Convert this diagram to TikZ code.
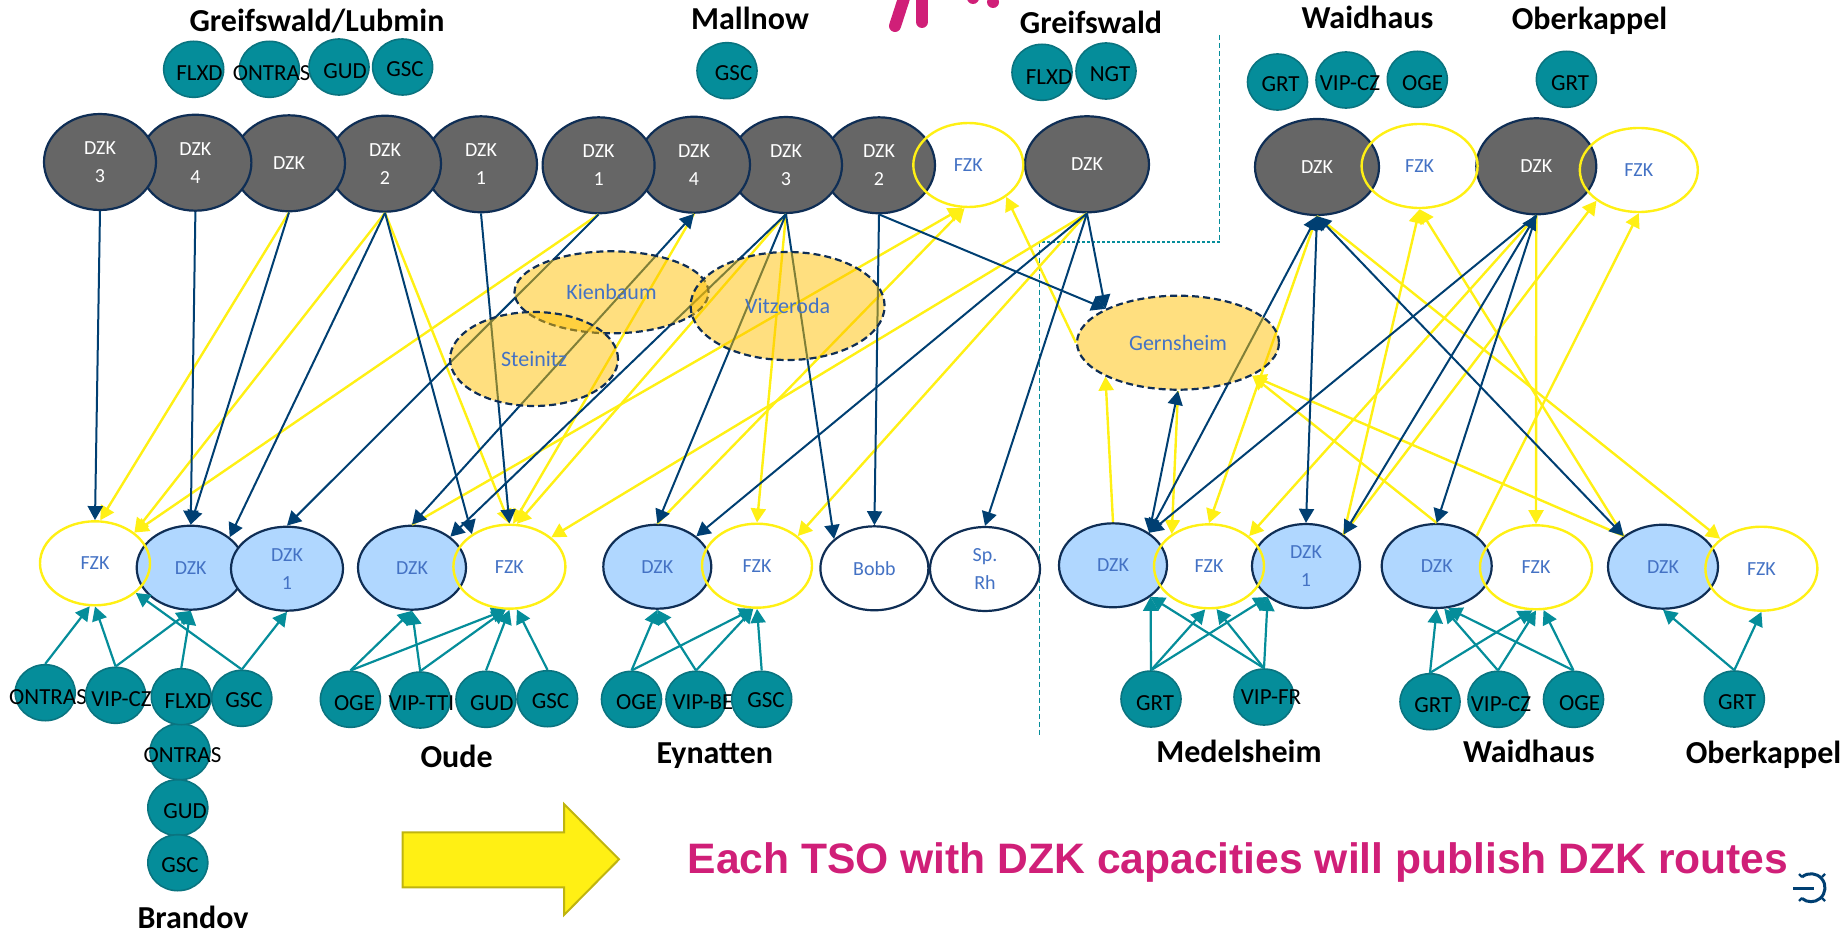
\documentclass[tikz,border=0pt]{standalone}
\usepackage{fontspec}
\usepackage{xcolor}
\usetikzlibrary{shapes.geometric,arrows.meta}
\setmainfont{Carlito}
\newfontfamily\headfont{Liberation Sans}
\definecolor{navyline}{HTML}{003F72}
\definecolor{navyedge}{HTML}{0F2E55}
\definecolor{tealfill}{HTML}{058D9A}
\definecolor{tealedge}{HTML}{0A7480}
\definecolor{sunyellow}{HTML}{FFF014}
\definecolor{pointgray}{HTML}{666666}
\definecolor{paleblue}{HTML}{B0D7FF}
\definecolor{textblue}{HTML}{4472C4}
\definecolor{storeorange}{HTML}{FFC000}
\definecolor{tsopink}{HTML}{D01F78}
\tikzset{
  oval/.style={ellipse,inner sep=0pt,align=center,font=\fontsize{20}{28}\selectfont},
  graydzk/.style={oval,draw=navyedge,line width=2.2pt,fill=pointgray,text=white,minimum width=112pt,minimum height=96pt},
  bluedzk/.style={oval,draw=navyedge,line width=2.2pt,fill=paleblue,text=textblue,minimum width=108pt,minimum height=84pt},
  whitedzk/.style={oval,draw=navyedge,line width=2.2pt,text=textblue,minimum width=108pt,minimum height=84pt},
  fzk/.style={oval,draw=sunyellow,line width=2.4pt,text=textblue,minimum width=110pt,minimum height=84pt},
  store/.style={oval,font=\fontsize{22}{22}\selectfont,draw=navyedge,dashed,dash pattern=on 7pt off 4pt,line width=2.2pt,fill=storeorange,fill opacity=.5,text opacity=1,text=textblue},
  storeplace/.style={ellipse,inner sep=0pt,line width=2.2pt},
  shipper/.style={ellipse,inner sep=0pt,draw=tealedge,line width=1.6pt,fill=tealfill,minimum width=60pt,minimum height=56pt},
  shippertext/.style={inner sep=0pt,font=\fontsize{23}{23}\selectfont,text=black},
  place/.style={inner sep=0pt,font=\fontsize{32}{32}\selectfont\bfseries,text=black},
  navyarr/.style={-{Triangle[length=14pt,width=15pt]},draw=navyline,line width=2pt},
  navyboth/.style={{Triangle[length=14pt,width=15pt]}-{Triangle[length=14pt,width=15pt]},draw=navyline,line width=2pt},
  yellowarr/.style={-{Triangle[length=14pt,width=15pt]},draw=sunyellow,line width=2.4pt},
  tealarr/.style={-{Triangle[length=14pt,width=15pt]},draw=tealfill,line width=2.2pt},
  border/.style={draw=tealfill,line width=1.2pt},
}
\newcommand{\shipperat}[4]{\node[shipper] (#1) at (#2) {}; \node[shippertext] (#1t) at (#3) {#4};}

\begin{document}
\begin{tikzpicture}[x=1pt,y=-1pt]
  \useasboundingbox (0,0) rectangle (1845,936);

  % cut off letters at the top
  \draw[tsopink,line width=12pt,line cap=round] (895,26) -- (906,-8);
  \draw[tsopink,line width=12pt,line cap=round] (922,22) -- (922,-8);
  \fill[tsopink] (973,-2) circle (6pt);
  \fill[tsopink] (993,2) circle (6pt);

  % market area borders
  \coordinate (bordertop) at (1219.6,35);
  \coordinate (bordercorner) at (1219.6,241.7);
  \coordinate (borderbend) at (1039.6,241.7);
  \coordinate (borderend) at (1039.6,736.7);
  \draw[border,dash pattern=on 5pt off 3pt] (bordertop) -- (bordercorner);
  \draw[border,line width=2pt,dash pattern=on 3pt off 2pt] (bordercorner) -- (borderbend);
  \draw[border,dash pattern=on 5pt off 3pt] (borderbend) -- (borderend);

  % upper row, right to left so that the left one lies on top
  \node[graydzk] (mdzkb) at (879,165.3) {DZK\\2};
  \node[graydzk] (mdzkc) at (786,165) {DZK\\3};
  \node[graydzk] (mdzkd) at (694,164.7) {DZK\\4};
  \node[graydzk] (mdzka) at (598.6,165.3) {DZK\\1};
  \node[graydzk] (gldzka) at (481,164.3) {DZK\\1};
  \node[graydzk] (gldzkb) at (385,163.7) {DZK\\2};
  \node[graydzk] (gldzk) at (289,163.3) {DZK};
  \node[graydzk] (gldzkd) at (195.4,162.7) {DZK\\4};
  \node[graydzk] (gldzkc) at (100,162) {DZK\\3};
  \node[graydzk,minimum width=124pt] (grdzk) at (1087,164.3) {DZK};
  \node[graydzk,minimum width=124pt] (wdzk) at (1317,167) {DZK};
  \node[graydzk,minimum width=120pt] (odzk) at (1536.3,166.3) {DZK};
  \node[fzk] (mfzk) at (968.3,165) {FZK};
  \node[fzk,minimum width=116pt] (wfzk) at (1419.6,166) {FZK};
  \node[fzk,minimum width=118pt] (ofzk) at (1638.8,170) {FZK};

  % lower row
  \node[bluedzk] (brdzk) at (190.7,567.7) {DZK};
  \node[bluedzk,minimum width=112pt] (brdzka) at (287,568.7) {DZK\\1};
  \node[fzk] (brfzk) at (95,563.3) {FZK};
  \node[bluedzk] (oudzk) at (412,567.7) {DZK};
  \node[fzk,minimum width=112pt] (oufzk) at (509.4,566.7) {FZK};
  \node[bluedzk] (eydzk) at (657.3,566.7) {DZK};
  \node[fzk] (eyfzk) at (757,565.7) {FZK};
  \node[whitedzk] (bobb) at (874.4,568.3) {Bobb};
  \node[whitedzk,minimum width=110pt] (sprh) at (985,569) {Sp.\\Rh};
  \node[bluedzk] (medzk) at (1113,565.3) {DZK};
  \node[bluedzk] (medzka) at (1306,566) {DZK\\1};
  \node[fzk] (mefzk) at (1209,566.3) {FZK};
  \node[bluedzk,minimum width=110pt] (wldzk) at (1436.7,566) {DZK};
  \node[fzk,minimum width=112pt] (wlfzk) at (1536,567.3) {FZK};
  \node[bluedzk,minimum width=110pt] (oldzk) at (1663,566.7) {DZK};
  \node[fzk,minimum width=112pt] (olfzk) at (1761.4,568.7) {FZK};

  % shippers
  \shipperat{sflxd}{193.7,69.3}{199.5,73.3}{FLXD}
  \shipperat{sontras}{269.4,69.3}{271.7,73.3}{ONTRAS}
  \shipperat{sgud}{339,67}{345,70.7}{GUD}
  \shipperat{sgsc}{402.6,67}{405,69}{GSC}
  \shipperat{mgsc}{727,70.7}{733.6,73.3}{GSC}
  \shipperat{gflxd}{1042,72.3}{1049,76.7}{FLXD}
  \shipperat{gngt}{1106,71}{1110,74.3}{NGT}
  \shipperat{wgrt}{1277.5,82}{1280.5,84.3}{GRT}
  \shipperat{wvip}{1346,80}{1350,83.3}{VIP-CZ}
  \shipperat{woge}{1417.3,79.3}{1422.7,83.3}{OGE}
  \shipperat{ogrt}{1566.4,79.3}{1570,82.7}{GRT}

  \shipperat{bontras}{45.2,692.7}{48,696.7}{ONTRAS}
  \shipperat{bvip}{115.6,695.3}{121.5,698.7}{VIP-CZ}
  \shipperat{bontrasb}{180,751.7}{182.5,755.3}{ONTRAS}
  \shipperat{bflxd}{181.3,696.7}{187.8,700.7}{FLXD}
  \shipperat{bgsc}{241.8,698.3}{244,700}{GSC}
  \shipperat{bgud}{177.8,807.7}{185,811.3}{GUD}
  \shipperat{bgscb}{177.8,862.7}{180,864.7}{GSC}
  \shipperat{uoge}{350.4,699.3}{354.5,702.7}{OGE}
  \shipperat{uvip}{420.2,700}{421.4,703.3}{VIP-TTI}
  \shipperat{ugud}{486,699.3}{491.8,703.3}{GUD}
  \shipperat{ugsc}{547.5,698.7}{550.5,701}{GSC}
  \shipperat{yoge}{631.5,699.3}{636.7,702.3}{OGE}
  \shipperat{yvip}{696,699.3}{703,702.3}{VIP-BE}
  \shipperat{ygsc}{761.7,699.3}{766,700}{GSC}
  \shipperat{egrt}{1151,699}{1155,702.7}{GRT}
  \shipperat{evip}{1264,697}{1271,696.7}{VIP-FR}
  \shipperat{lgrt}{1430,701.7}{1433.3,704.7}{GRT}
  \shipperat{lvip}{1498,699.3}{1501,703.7}{VIP-CZ}
  \shipperat{loge}{1573.5,699.3}{1579.5,702.7}{OGE}
  \shipperat{kgrt}{1734.3,699}{1737,702.3}{GRT}

  % place names
  \node[place] (tgl) at (317,21) {Greifswald/Lubmin};
  \node[place] (tma) at (750,18) {Mallnow};
  \node[place] (tgr) at (1091,22) {Greifswald};
  \node[place] (twa) at (1367.4,17.5) {Waidhaus};
  \node[place] (tob) at (1589.5,21) {Oberkappel};
  \node[place] (tou) at (456.6,756) {Oude};
  \node[place] (tey) at (714.8,756) {Eynatten};
  \node[place] (tbr) at (193,917) {Brandov};
  \node[place] (tme) at (1239,751.7) {Medelsheim};
  \node[place] (twl) at (1528.8,751.7) {Waidhaus};
  \node[place] (tol) at (1763.5,755) {Oberkappel};

  % storages have to lie over the routes, so only the place of this one here
  \coordinate (kien) at (611.5,292.3);
  \coordinate (vitz) at (787.6,306);
  \coordinate (stei) at (534,359);
  \coordinate (gern) at (1178,342.7);
  \node[storeplace,minimum width=202pt,minimum height=94pt] (gernsheim) at (gern) {};

  % yellow routes
  \draw[yellowarr] (gldzk.south) -- (brfzk.83);
  \draw[yellowarr] (gldzkb.south) -- (brfzk.38);
  \draw[yellowarr] (mdzka.south) -- (brfzk.38);
  \draw[yellowarr] (gldzkb.south) -- (oufzk.north);
  \draw[yellowarr] (mdzkd.south) -- (oufzk.85);
  \draw[yellowarr] (mdzkc.south) -- (oufzk.80);
  \draw[yellowarr] (oudzk.north) -- (mfzk.262);
  \draw[yellowarr] (eydzk.north) -- (mfzk.265);
  \draw[yellowarr] (grdzk.south) -- (oufzk.35);
  \draw[yellowarr] (mdzkc.south) -- (eyfzk.north);
  \draw[yellowarr] (grdzk.south) -- (eyfzk.36);
  \draw[yellowarr] (gernsheim.west) -- (mfzk.320);
  \draw[yellowarr] (medzk.north) -- (gernsheim.205);
  \draw[yellowarr] (gernsheim.south) -- (mefzk.139);
  \draw[yellowarr] (wdzk.south) -- (mefzk.north);
  \draw[yellowarr] (wdzk.south) -- (olfzk.144);
  \draw[yellowarr] (odzk.south) -- (mefzk.37);
  \draw[yellowarr] (odzk.south) -- (wlfzk.north);
  \draw[yellowarr] (medzka.40) -- (wfzk.south);
  \draw[yellowarr] (oldzk.142) -- (wfzk.south);
  \draw[yellowarr] (medzka.40) -- (ofzk.216);
  \draw[yellowarr] (wldzk.37) -- (ofzk.south);
  \draw[yellowarr] (wldzk.north) -- (gernsheim.336);
  \draw[yellowarr] (oldzk.142) -- (gernsheim.336);

  % navy routes
  \draw[navyarr] (gldzkc.south) -- (brfzk.north);
  \draw[navyarr] (gldzkd.south) -- (brdzk.north);
  \draw[navyarr] (gldzk.south) -- (brdzk.north);
  \draw[navyarr] (gldzkb.south) -- (brdzk.38);
  \draw[navyarr] (gldzkb.south) -- (oufzk.139);
  \draw[navyarr] (gldzka.south) -- (oufzk.north);
  \draw[navyarr] (mdzka.south) -- (brdzka.north);
  \draw[navyboth] (oudzk.north) -- (mdzkd.south);
  \draw[navyarr] (mdzkc.south) -- (oudzk.39);
  \draw[navyarr] (mdzkc.south) -- (eydzk.north);
  \draw[navyarr] (mdzkc.south) -- (bobb.144);
  \draw[navyarr] (mdzkb.south) -- (bobb.north);
  \draw[navyarr] (mdzkb.south) -- (gernsheim.155);
  \draw[navyarr] (grdzk.south) -- (gernsheim.155);
  \draw[navyarr] (grdzk.south) -- (sprh.north);
  \draw[navyarr] (grdzk.south) -- (eydzk.38);
  \draw[navyboth] (wdzk.south) -- (medzk.42);
  \draw[navyboth] (wdzk.south) -- (medzka.north);
  \draw[navyboth] (wdzk.south) -- (oldzk.142);
  \draw[navyboth] (gernsheim.south) -- (medzk.42);
  \draw[navyarr] (odzk.south) -- (medzk.42);
  \draw[navyboth] (odzk.south) -- (medzka.40);
  \draw[navyarr] (odzk.south) -- (wldzk.north);

  % teal nominations
  \draw[tealarr] (bontras.north) -- (brfzk.263);
  \draw[tealarr] (bvip.north) -- (brfzk.south);
  \draw[tealarr] (bvip.north) -- (brdzk.south);
  \draw[tealarr] (bflxd.north) -- (brdzk.south);
  \draw[tealarr] (bgsc.north) -- (brdzka.south);
  \draw[tealarr] (bgsc.north) -- (brfzk.324);
  \draw[tealarr] (uoge.north) -- (oudzk.south);
  \draw[tealarr] (uoge.north) -- (oufzk.265);
  \draw[tealarr] (uvip.north) -- (oudzk.south);
  \draw[tealarr] (uvip.north) -- (oufzk.265);
  \draw[tealarr] (ugud.north) -- (oufzk.south);
  \draw[tealarr] (ugsc.north) -- (oufzk.280);
  \draw[tealarr] (yoge.north) -- (eydzk.south);
  \draw[tealarr] (yoge.north) -- (eyfzk.265);
  \draw[tealarr] (yvip.north) -- (eydzk.south);
  \draw[tealarr] (yvip.north) -- (eyfzk.265);
  \draw[tealarr] (ygsc.north) -- (eyfzk.south);
  \draw[tealarr] (egrt.north) -- (medzk.320);
  \draw[tealarr] (egrt.north) -- (mefzk.265);
  \draw[tealarr] (egrt.north) -- (medzka.219);
  \draw[tealarr] (evip.north) -- (medzk.320);
  \draw[tealarr] (evip.north) -- (mefzk.280);
  \draw[tealarr] (evip.north) -- (medzka.219);
  \draw[tealarr] (lgrt.north) -- (wldzk.south);
  \draw[tealarr] (lgrt.north) -- (wlfzk.265);
  \draw[tealarr] (lvip.north) -- (wldzk.280);
  \draw[tealarr] (lvip.north) -- (wlfzk.south);
  \draw[tealarr] (loge.north) -- (wldzk.285);
  \draw[tealarr] (loge.north) -- (wlfzk.280);
  \draw[tealarr] (kgrt.north) -- (oldzk.south);
  \draw[tealarr] (kgrt.north) -- (olfzk.south);

  % storages
  \node[store,minimum width=194pt,minimum height=82pt] (kienbaum) at (kien) {Kienbaum};
  \node[store,minimum width=194pt,minimum height=108pt] (vitzeroda) at (vitz) {Vitzeroda};
  \node[store,minimum width=168pt,minimum height=94pt] (steinitz) at (stei) {Steinitz};
  \node[store,minimum width=202pt,minimum height=94pt] (gernlabel) at (gern) {Gernsheim};

  % block arrow and message
  \draw[fill=sunyellow,draw=sunyellow!75!black,line width=2pt] (402.6,832.3) -- (564,832.3) -- (564,804) -- (619,859.3) -- (564,915) -- (564,887.3) -- (402.6,887.3) -- cycle;
  \node[inner sep=0pt,text=tsopink,font=\headfont\fontsize{42.6}{43}\selectfont\bfseries] (message) at (1238,862) {Each TSO with DZK capacities will publish DZK routes};

  % logo
  \draw[navyline,line width=3pt] (1793,888) -- (1814,888);
  \draw[navyline,line width=3pt] (1802,877) arc (130:-130:14pt and 14pt);
  \draw[navyline,line width=2.4pt] (1802,877) -- (1799,874);
  \draw[navyline,line width=2.4pt] (1802,898) -- (1799,901);
  \draw[navyline,line width=2.4pt] (1822,877) -- (1825,874);
  \draw[navyline,line width=2.4pt] (1822,898) -- (1825,901);
\end{tikzpicture}
\end{document}
